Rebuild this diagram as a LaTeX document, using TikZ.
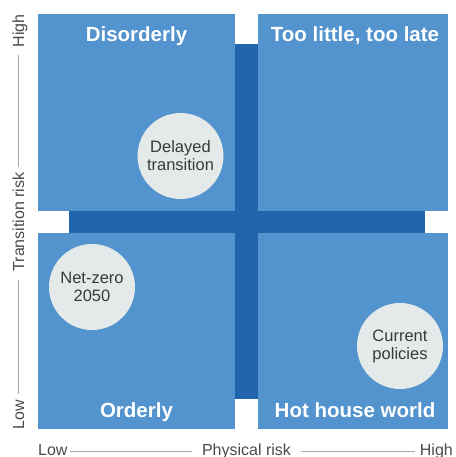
\documentclass[tikz,border=0pt]{standalone}
\usepackage{fontspec}
\setmainfont{Liberation Sans}
\definecolor{quadblue}{HTML}{5393CE}
\definecolor{barblue}{HTML}{2165AC}
\definecolor{bubblegrey}{HTML}{E4E9E9}
\definecolor{bubbletext}{HTML}{3A3A3A}
\definecolor{axtext}{HTML}{4A4A4A}
\definecolor{axline}{HTML}{A8A8A8}
\begin{document}
\begin{tikzpicture}[x=1pt,y=-1pt,
  quadbox/.style={fill=quadblue, draw=none},
  barbox/.style={fill=barblue, draw=none},
  bubble/.style={circle, fill=bubblegrey, minimum size=86pt, inner sep=0pt, align=center,
    text=bubbletext, font=\fontsize{16.5}{18}\selectfont},
  quadtitle/.style={text=white, font=\bfseries\fontsize{20.5}{24}\selectfont, anchor=base, inner sep=0pt},
  axislabel/.style={text=axtext, font=\fontsize{16}{19}\selectfont, inner sep=0pt},
  axisline/.style={draw=axline, line width=0.8pt}]
\useasboundingbox (0,0) rectangle (455,457);
\fill[white] (0,0) rectangle (455,457);
% quadrants
\path[quadbox] (38,14) rectangle (235,211);
\path[quadbox] (258,14) rectangle (448,211);
\path[quadbox] (38,233) rectangle (235,429);
\path[quadbox] (258,233) rectangle (448,429);
% cross bars
\path[barbox] (235,44) rectangle (258,399);
\path[barbox] (69,211) rectangle (425,233);
% titles
\node[quadtitle] (disorderly) at (136.5,42) {Disorderly};
\node[quadtitle] (toolittle) at (355,42) {Too little, too late};
\node[quadtitle] (orderly) at (136.5,417) {Orderly};
\node[quadtitle] (hothouse) at (355,417) {Hot house world};
% bubbles
\node[bubble] (delayed) at (180.5,156) {Delayed\\transition};
\node[bubble] (netzero) at (92,287) {Net-zero\\2050};
\node[bubble] (current) at (400,346) {Current\\policies};
% horizontal axis
\coordinate (axisy) at (0,451.5);
\node[axislabel, anchor=base west] (xlow) at (38,455) {Low};
\node[axislabel, anchor=base] (xname) at (246.5,455) {Physical risk};
\node[axislabel, anchor=base east] (xhigh) at (453,455) {High};
\draw[axisline, shorten <=2.7pt, shorten >=10.3pt] (xlow.east |- axisy) -- (xname.west |- axisy);
\draw[axisline, shorten <=10pt, shorten >=5pt] (xname.east |- axisy) -- (xhigh.west |- axisy);
% vertical axis
\coordinate (axisx) at (18,0);
\node[axislabel, rotate=90, anchor=base] (yhigh) at (24,31) {High};
\node[axislabel, rotate=90, anchor=base] (yname) at (24,222) {Transition risk};
\node[axislabel, rotate=90, anchor=base] (ylow) at (24,415) {Low};
\draw[axisline, shorten <=7pt, shorten >=5pt] (yhigh.west -| axisx) -- (yname.east -| axisx);
\draw[axisline, shorten <=8pt, shorten >=6pt] (yname.west -| axisx) -- (ylow.east -| axisx);
\end{tikzpicture}
\end{document}
